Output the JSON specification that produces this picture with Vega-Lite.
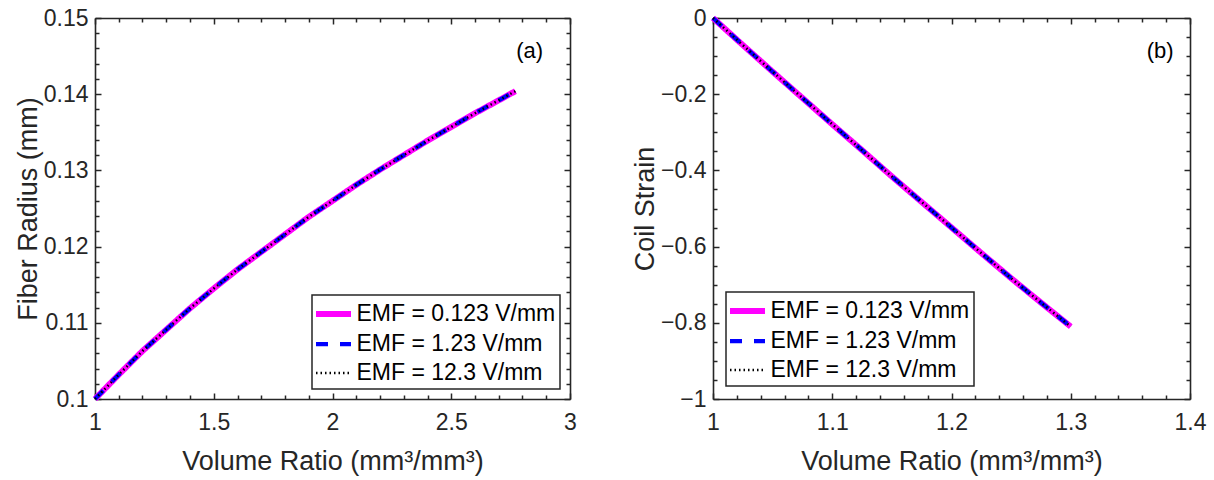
{
  "$schema": "https://vega.github.io/schema/vega-lite/v6.json",
  "padding": {"top": 7, "left": 14, "right": 5, "bottom": 5},
  "background": "white",
  "config": {
    "font": "Liberation Sans",
    "view": {"stroke": null},
    "axis": {
      "grid": false,
      "domainColor": "#262626",
      "domainWidth": 1.6,
      "tickColor": "#262626",
      "tickWidth": 1.5,
      "labelColor": "#262626",
      "labelFontSize": 23,
      "labelFlush": false,
      "labelOverlap": false,
      "labelBound": false,
      "titleColor": "#262626",
      "titleFontSize": 27,
      "titleFontWeight": "normal"
    },
    "legend": {
      "title": null,
      "labelFontSize": 23,
      "labelColor": "#000000",
      "labelLimit": 400,
      "strokeColor": "#262626",
      "strokeWidth": 1.5,
      "fillColor": "white",
      "padding": 4,
      "rowPadding": 4,
      "symbolType": "M-1.5,0H1.5",
      "symbolSize": 544,
      "symbolStrokeWidth": 1.5,
      "symbolOffset": 2.5,
      "labelOffset": 8
    }
  },
  "datasets": {
    "fiber": [
      {"series": "EMF = 0.123 V/mm", "volume_ratio": 1.0, "fiber_radius": 0.1},
      {"series": "EMF = 0.123 V/mm", "volume_ratio": 1.1, "fiber_radius": 0.1032},
      {"series": "EMF = 0.123 V/mm", "volume_ratio": 1.2, "fiber_radius": 0.1063},
      {"series": "EMF = 0.123 V/mm", "volume_ratio": 1.3, "fiber_radius": 0.1091},
      {"series": "EMF = 0.123 V/mm", "volume_ratio": 1.4, "fiber_radius": 0.1119},
      {"series": "EMF = 0.123 V/mm", "volume_ratio": 1.5, "fiber_radius": 0.1145},
      {"series": "EMF = 0.123 V/mm", "volume_ratio": 1.6, "fiber_radius": 0.117},
      {"series": "EMF = 0.123 V/mm", "volume_ratio": 1.7, "fiber_radius": 0.1193},
      {"series": "EMF = 0.123 V/mm", "volume_ratio": 1.8, "fiber_radius": 0.1216},
      {"series": "EMF = 0.123 V/mm", "volume_ratio": 1.9, "fiber_radius": 0.1239},
      {"series": "EMF = 0.123 V/mm", "volume_ratio": 2.0, "fiber_radius": 0.126},
      {"series": "EMF = 0.123 V/mm", "volume_ratio": 2.1, "fiber_radius": 0.1281},
      {"series": "EMF = 0.123 V/mm", "volume_ratio": 2.2, "fiber_radius": 0.1301},
      {"series": "EMF = 0.123 V/mm", "volume_ratio": 2.3, "fiber_radius": 0.132},
      {"series": "EMF = 0.123 V/mm", "volume_ratio": 2.4, "fiber_radius": 0.1339},
      {"series": "EMF = 0.123 V/mm", "volume_ratio": 2.5, "fiber_radius": 0.1357},
      {"series": "EMF = 0.123 V/mm", "volume_ratio": 2.6, "fiber_radius": 0.1375},
      {"series": "EMF = 0.123 V/mm", "volume_ratio": 2.7, "fiber_radius": 0.1392},
      {"series": "EMF = 0.123 V/mm", "volume_ratio": 2.77, "fiber_radius": 0.1404},
      {"series": "EMF = 1.23 V/mm", "volume_ratio": 1.0, "fiber_radius": 0.1},
      {"series": "EMF = 1.23 V/mm", "volume_ratio": 1.1, "fiber_radius": 0.1032},
      {"series": "EMF = 1.23 V/mm", "volume_ratio": 1.2, "fiber_radius": 0.1063},
      {"series": "EMF = 1.23 V/mm", "volume_ratio": 1.3, "fiber_radius": 0.1091},
      {"series": "EMF = 1.23 V/mm", "volume_ratio": 1.4, "fiber_radius": 0.1119},
      {"series": "EMF = 1.23 V/mm", "volume_ratio": 1.5, "fiber_radius": 0.1145},
      {"series": "EMF = 1.23 V/mm", "volume_ratio": 1.6, "fiber_radius": 0.117},
      {"series": "EMF = 1.23 V/mm", "volume_ratio": 1.7, "fiber_radius": 0.1193},
      {"series": "EMF = 1.23 V/mm", "volume_ratio": 1.8, "fiber_radius": 0.1216},
      {"series": "EMF = 1.23 V/mm", "volume_ratio": 1.9, "fiber_radius": 0.1239},
      {"series": "EMF = 1.23 V/mm", "volume_ratio": 2.0, "fiber_radius": 0.126},
      {"series": "EMF = 1.23 V/mm", "volume_ratio": 2.1, "fiber_radius": 0.1281},
      {"series": "EMF = 1.23 V/mm", "volume_ratio": 2.2, "fiber_radius": 0.1301},
      {"series": "EMF = 1.23 V/mm", "volume_ratio": 2.3, "fiber_radius": 0.132},
      {"series": "EMF = 1.23 V/mm", "volume_ratio": 2.4, "fiber_radius": 0.1339},
      {"series": "EMF = 1.23 V/mm", "volume_ratio": 2.5, "fiber_radius": 0.1357},
      {"series": "EMF = 1.23 V/mm", "volume_ratio": 2.6, "fiber_radius": 0.1375},
      {"series": "EMF = 1.23 V/mm", "volume_ratio": 2.7, "fiber_radius": 0.1392},
      {"series": "EMF = 1.23 V/mm", "volume_ratio": 2.77, "fiber_radius": 0.1404},
      {"series": "EMF = 12.3 V/mm", "volume_ratio": 1.0, "fiber_radius": 0.1},
      {"series": "EMF = 12.3 V/mm", "volume_ratio": 1.1, "fiber_radius": 0.1032},
      {"series": "EMF = 12.3 V/mm", "volume_ratio": 1.2, "fiber_radius": 0.1063},
      {"series": "EMF = 12.3 V/mm", "volume_ratio": 1.3, "fiber_radius": 0.1091},
      {"series": "EMF = 12.3 V/mm", "volume_ratio": 1.4, "fiber_radius": 0.1119},
      {"series": "EMF = 12.3 V/mm", "volume_ratio": 1.5, "fiber_radius": 0.1145},
      {"series": "EMF = 12.3 V/mm", "volume_ratio": 1.6, "fiber_radius": 0.117},
      {"series": "EMF = 12.3 V/mm", "volume_ratio": 1.7, "fiber_radius": 0.1193},
      {"series": "EMF = 12.3 V/mm", "volume_ratio": 1.8, "fiber_radius": 0.1216},
      {"series": "EMF = 12.3 V/mm", "volume_ratio": 1.9, "fiber_radius": 0.1239},
      {"series": "EMF = 12.3 V/mm", "volume_ratio": 2.0, "fiber_radius": 0.126},
      {"series": "EMF = 12.3 V/mm", "volume_ratio": 2.1, "fiber_radius": 0.1281},
      {"series": "EMF = 12.3 V/mm", "volume_ratio": 2.2, "fiber_radius": 0.1301},
      {"series": "EMF = 12.3 V/mm", "volume_ratio": 2.3, "fiber_radius": 0.132},
      {"series": "EMF = 12.3 V/mm", "volume_ratio": 2.4, "fiber_radius": 0.1339},
      {"series": "EMF = 12.3 V/mm", "volume_ratio": 2.5, "fiber_radius": 0.1357},
      {"series": "EMF = 12.3 V/mm", "volume_ratio": 2.6, "fiber_radius": 0.1375},
      {"series": "EMF = 12.3 V/mm", "volume_ratio": 2.7, "fiber_radius": 0.1392},
      {"series": "EMF = 12.3 V/mm", "volume_ratio": 2.77, "fiber_radius": 0.1404}
    ],
    "coil": [
      {"series": "EMF = 0.123 V/mm", "volume_ratio": 1.0, "coil_strain": 0},
      {"series": "EMF = 0.123 V/mm", "volume_ratio": 1.025, "coil_strain": -0.071},
      {"series": "EMF = 0.123 V/mm", "volume_ratio": 1.05, "coil_strain": -0.141},
      {"series": "EMF = 0.123 V/mm", "volume_ratio": 1.075, "coil_strain": -0.21},
      {"series": "EMF = 0.123 V/mm", "volume_ratio": 1.1, "coil_strain": -0.279},
      {"series": "EMF = 0.123 V/mm", "volume_ratio": 1.125, "coil_strain": -0.347},
      {"series": "EMF = 0.123 V/mm", "volume_ratio": 1.15, "coil_strain": -0.416},
      {"series": "EMF = 0.123 V/mm", "volume_ratio": 1.175, "coil_strain": -0.483},
      {"series": "EMF = 0.123 V/mm", "volume_ratio": 1.2, "coil_strain": -0.55},
      {"series": "EMF = 0.123 V/mm", "volume_ratio": 1.225, "coil_strain": -0.617},
      {"series": "EMF = 0.123 V/mm", "volume_ratio": 1.25, "coil_strain": -0.683},
      {"series": "EMF = 0.123 V/mm", "volume_ratio": 1.275, "coil_strain": -0.747},
      {"series": "EMF = 0.123 V/mm", "volume_ratio": 1.3, "coil_strain": -0.81},
      {"series": "EMF = 1.23 V/mm", "volume_ratio": 1.0, "coil_strain": 0},
      {"series": "EMF = 1.23 V/mm", "volume_ratio": 1.025, "coil_strain": -0.071},
      {"series": "EMF = 1.23 V/mm", "volume_ratio": 1.05, "coil_strain": -0.141},
      {"series": "EMF = 1.23 V/mm", "volume_ratio": 1.075, "coil_strain": -0.21},
      {"series": "EMF = 1.23 V/mm", "volume_ratio": 1.1, "coil_strain": -0.279},
      {"series": "EMF = 1.23 V/mm", "volume_ratio": 1.125, "coil_strain": -0.347},
      {"series": "EMF = 1.23 V/mm", "volume_ratio": 1.15, "coil_strain": -0.416},
      {"series": "EMF = 1.23 V/mm", "volume_ratio": 1.175, "coil_strain": -0.483},
      {"series": "EMF = 1.23 V/mm", "volume_ratio": 1.2, "coil_strain": -0.55},
      {"series": "EMF = 1.23 V/mm", "volume_ratio": 1.225, "coil_strain": -0.617},
      {"series": "EMF = 1.23 V/mm", "volume_ratio": 1.25, "coil_strain": -0.683},
      {"series": "EMF = 1.23 V/mm", "volume_ratio": 1.275, "coil_strain": -0.747},
      {"series": "EMF = 1.23 V/mm", "volume_ratio": 1.3, "coil_strain": -0.81},
      {"series": "EMF = 12.3 V/mm", "volume_ratio": 1.0, "coil_strain": 0},
      {"series": "EMF = 12.3 V/mm", "volume_ratio": 1.025, "coil_strain": -0.071},
      {"series": "EMF = 12.3 V/mm", "volume_ratio": 1.05, "coil_strain": -0.141},
      {"series": "EMF = 12.3 V/mm", "volume_ratio": 1.075, "coil_strain": -0.21},
      {"series": "EMF = 12.3 V/mm", "volume_ratio": 1.1, "coil_strain": -0.279},
      {"series": "EMF = 12.3 V/mm", "volume_ratio": 1.125, "coil_strain": -0.347},
      {"series": "EMF = 12.3 V/mm", "volume_ratio": 1.15, "coil_strain": -0.416},
      {"series": "EMF = 12.3 V/mm", "volume_ratio": 1.175, "coil_strain": -0.483},
      {"series": "EMF = 12.3 V/mm", "volume_ratio": 1.2, "coil_strain": -0.55},
      {"series": "EMF = 12.3 V/mm", "volume_ratio": 1.225, "coil_strain": -0.617},
      {"series": "EMF = 12.3 V/mm", "volume_ratio": 1.25, "coil_strain": -0.683},
      {"series": "EMF = 12.3 V/mm", "volume_ratio": 1.275, "coil_strain": -0.747},
      {"series": "EMF = 12.3 V/mm", "volume_ratio": 1.3, "coil_strain": -0.81}
    ]
  },
  "spacing": 54,
  "resolve": {"scale": {"color": "independent", "strokeDash": "independent", "strokeWidth": "independent"}},
  "hconcat": [
    {
      "width": 475,
      "height": 381,
      "resolve": {"axis": {"x": "independent", "y": "independent"}},
      "layer": [
        {
          "data": {"name": "fiber"},
          "mark": {"type": "line", "strokeCap": "butt", "strokeJoin": "round"},
          "encoding": {
            "x": {"field": "volume_ratio", "type": "quantitative",
              "scale": {"domain": [1, 3], "nice": false, "zero": false},
              "axis": {"orient": "bottom", "title": "Volume Ratio (mm³/mm³)", "values": [1, 1.5, 2, 2.5, 3],
                "labelExpr": "'' + datum.value", "tickSize": -6, "labelPadding": 18, "titlePadding": 14}},
            "y": {"field": "fiber_radius", "type": "quantitative",
              "scale": {"domain": [0.1, 0.15], "nice": false, "zero": false},
              "axis": {"orient": "left", "title": "Fiber Radius (mm)", "values": [0.1, 0.11, 0.12, 0.13, 0.14, 0.15],
                "labelExpr": "'' + datum.value", "tickSize": -6, "labelPadding": 13, "titlePadding": 1}},
            "color": {"field": "series", "type": "nominal",
              "scale": {"domain": ["EMF = 0.123 V/mm", "EMF = 1.23 V/mm", "EMF = 12.3 V/mm"], "range": ["#ff00ff", "#0000ff", "#000000"]},
              "legend": {"orient": "bottom-right", "offset": 10}},
            "strokeDash": {"field": "series", "type": "nominal",
              "scale": {"domain": ["EMF = 0.123 V/mm", "EMF = 1.23 V/mm", "EMF = 12.3 V/mm"], "range": [[1, 0], [12, 12], [1.5, 3]]},
              "legend": {"orient": "bottom-right", "offset": 10}},
            "strokeWidth": {"field": "series", "type": "ordinal",
              "scale": {"domain": ["EMF = 0.123 V/mm", "EMF = 1.23 V/mm", "EMF = 12.3 V/mm"], "range": [6, 2.5, 1.2]},
              "legend": {"orient": "bottom-right", "offset": 10}}
          }
        },
        {
          "data": {"name": "fiber"},
          "mark": {"type": "line", "opacity": 0},
          "encoding": {
            "x": {"field": "volume_ratio", "type": "quantitative",
              "scale": {"domain": [1, 3], "nice": false, "zero": false},
              "axis": {"orient": "bottom", "title": null, "labels": false, "domain": false, "tickSize": -4,
                "values": [1.1,1.2,1.3,1.4,1.6,1.7,1.8,1.9,2.1,2.2,2.3,2.4,2.6,2.7,2.8,2.9]}},
            "y": {"field": "fiber_radius", "type": "quantitative",
              "scale": {"domain": [0.1, 0.15], "nice": false, "zero": false},
              "axis": {"orient": "left", "title": null, "labels": false, "domain": false, "tickSize": -4,
                "values": [0.102,0.104,0.106,0.108,0.112,0.114,0.116,0.118,0.122,0.124,0.126,0.128,0.132,0.134,0.136,0.138,0.142,0.144,0.146,0.148]}}
          }
        },
        {
          "data": {"name": "fiber"},
          "mark": {"type": "line", "opacity": 0},
          "encoding": {
            "x": {"field": "volume_ratio", "type": "quantitative",
              "scale": {"domain": [1, 3], "nice": false, "zero": false},
              "axis": {"orient": "top", "title": null, "labels": false, "tickSize": -6, "values": [1, 1.5, 2, 2.5, 3]}},
            "y": {"field": "fiber_radius", "type": "quantitative",
              "scale": {"domain": [0.1, 0.15], "nice": false, "zero": false},
              "axis": {"orient": "right", "title": null, "labels": false, "tickSize": -6, "values": [0.1, 0.11, 0.12, 0.13, 0.14, 0.15]}}
          }
        },
        {
          "data": {"name": "fiber"},
          "mark": {"type": "line", "opacity": 0},
          "encoding": {
            "x": {"field": "volume_ratio", "type": "quantitative",
              "scale": {"domain": [1, 3], "nice": false, "zero": false},
              "axis": {"orient": "top", "title": null, "labels": false, "domain": false, "tickSize": -4,
                "values": [1.1,1.2,1.3,1.4,1.6,1.7,1.8,1.9,2.1,2.2,2.3,2.4,2.6,2.7,2.8,2.9]}},
            "y": {"field": "fiber_radius", "type": "quantitative",
              "scale": {"domain": [0.1, 0.15], "nice": false, "zero": false},
              "axis": {"orient": "right", "title": null, "labels": false, "domain": false, "tickSize": -4,
                "values": [0.102,0.104,0.106,0.108,0.112,0.114,0.116,0.118,0.122,0.124,0.126,0.128,0.132,0.134,0.136,0.138,0.142,0.144,0.146,0.148]}}
          }
        },
        {
          "data": {"values": [{"vx": 2.83, "vy": 0.1457, "label": "(a)"}]},
          "mark": {"type": "text", "fontSize": 22, "color": "#000000", "align": "center", "baseline": "middle"},
          "encoding": {
            "x": {"field": "vx", "type": "quantitative", "scale": {"domain": [1, 3], "nice": false, "zero": false}, "axis": null},
            "y": {"field": "vy", "type": "quantitative", "scale": {"domain": [0.1, 0.15], "nice": false, "zero": false}, "axis": null},
            "text": {"field": "label"}
          }
        }
      ]
    },
    {
      "width": 477,
      "height": 381,
      "resolve": {"axis": {"x": "independent", "y": "independent"}},
      "layer": [
        {
          "data": {"name": "coil"},
          "mark": {"type": "line", "strokeCap": "butt", "strokeJoin": "round"},
          "encoding": {
            "x": {"field": "volume_ratio", "type": "quantitative",
              "scale": {"domain": [1, 1.4], "nice": false, "zero": false},
              "axis": {"orient": "bottom", "title": "Volume Ratio (mm³/mm³)", "values": [1, 1.1, 1.2, 1.3, 1.4],
                "labelExpr": "'' + datum.value", "tickSize": -6, "labelPadding": 18, "titlePadding": 14}},
            "y": {"field": "coil_strain", "type": "quantitative",
              "scale": {"domain": [-1, 0], "nice": false, "zero": false},
              "axis": {"orient": "left", "title": "Coil Strain", "values": [-1, -0.8, -0.6, -0.4, -0.2, 0],
                "labelExpr": "replace('' + datum.value, '-', '\u2212')", "tickSize": -6, "labelPadding": 13, "titlePadding": 1}},
            "color": {"field": "series", "type": "nominal",
              "scale": {"domain": ["EMF = 0.123 V/mm", "EMF = 1.23 V/mm", "EMF = 12.3 V/mm"], "range": ["#ff00ff", "#0000ff", "#000000"]},
              "legend": {"orient": "bottom-left", "offset": 13}},
            "strokeDash": {"field": "series", "type": "nominal",
              "scale": {"domain": ["EMF = 0.123 V/mm", "EMF = 1.23 V/mm", "EMF = 12.3 V/mm"], "range": [[1, 0], [12, 12], [1.5, 3]]},
              "legend": {"orient": "bottom-left", "offset": 13}},
            "strokeWidth": {"field": "series", "type": "ordinal",
              "scale": {"domain": ["EMF = 0.123 V/mm", "EMF = 1.23 V/mm", "EMF = 12.3 V/mm"], "range": [6, 2.5, 1.2]},
              "legend": {"orient": "bottom-left", "offset": 13}}
          }
        },
        {
          "data": {"name": "coil"},
          "mark": {"type": "line", "opacity": 0},
          "encoding": {
            "x": {"field": "volume_ratio", "type": "quantitative",
              "scale": {"domain": [1, 1.4], "nice": false, "zero": false},
              "axis": {"orient": "bottom", "title": null, "labels": false, "domain": false, "tickSize": -4,
                "values": [1.02,1.04,1.06,1.08,1.12,1.14,1.16,1.18,1.22,1.24,1.26,1.28,1.32,1.34,1.36,1.38]}},
            "y": {"field": "coil_strain", "type": "quantitative",
              "scale": {"domain": [-1, 0], "nice": false, "zero": false},
              "axis": {"orient": "left", "title": null, "labels": false, "domain": false, "tickSize": -4,
                "values": [-0.95,-0.9,-0.85,-0.75,-0.7,-0.65,-0.55,-0.5,-0.45,-0.35,-0.3,-0.25,-0.15,-0.1,-0.05]}}
          }
        },
        {
          "data": {"name": "coil"},
          "mark": {"type": "line", "opacity": 0},
          "encoding": {
            "x": {"field": "volume_ratio", "type": "quantitative",
              "scale": {"domain": [1, 1.4], "nice": false, "zero": false},
              "axis": {"orient": "top", "title": null, "labels": false, "tickSize": -6, "values": [1, 1.1, 1.2, 1.3, 1.4]}},
            "y": {"field": "coil_strain", "type": "quantitative",
              "scale": {"domain": [-1, 0], "nice": false, "zero": false},
              "axis": {"orient": "right", "title": null, "labels": false, "tickSize": -6, "values": [-1, -0.8, -0.6, -0.4, -0.2, 0]}}
          }
        },
        {
          "data": {"name": "coil"},
          "mark": {"type": "line", "opacity": 0},
          "encoding": {
            "x": {"field": "volume_ratio", "type": "quantitative",
              "scale": {"domain": [1, 1.4], "nice": false, "zero": false},
              "axis": {"orient": "top", "title": null, "labels": false, "domain": false, "tickSize": -4,
                "values": [1.02,1.04,1.06,1.08,1.12,1.14,1.16,1.18,1.22,1.24,1.26,1.28,1.32,1.34,1.36,1.38]}},
            "y": {"field": "coil_strain", "type": "quantitative",
              "scale": {"domain": [-1, 0], "nice": false, "zero": false},
              "axis": {"orient": "right", "title": null, "labels": false, "domain": false, "tickSize": -4,
                "values": [-0.95,-0.9,-0.85,-0.75,-0.7,-0.65,-0.55,-0.5,-0.45,-0.35,-0.3,-0.25,-0.15,-0.1,-0.05]}}
          }
        },
        {
          "data": {"values": [{"vx": 1.375, "vy": -0.087, "label": "(b)"}]},
          "mark": {"type": "text", "fontSize": 22, "color": "#000000", "align": "center", "baseline": "middle"},
          "encoding": {
            "x": {"field": "vx", "type": "quantitative", "scale": {"domain": [1, 1.4], "nice": false, "zero": false}, "axis": null},
            "y": {"field": "vy", "type": "quantitative", "scale": {"domain": [-1, 0], "nice": false, "zero": false}, "axis": null},
            "text": {"field": "label"}
          }
        }
      ]
    }
  ]
}
